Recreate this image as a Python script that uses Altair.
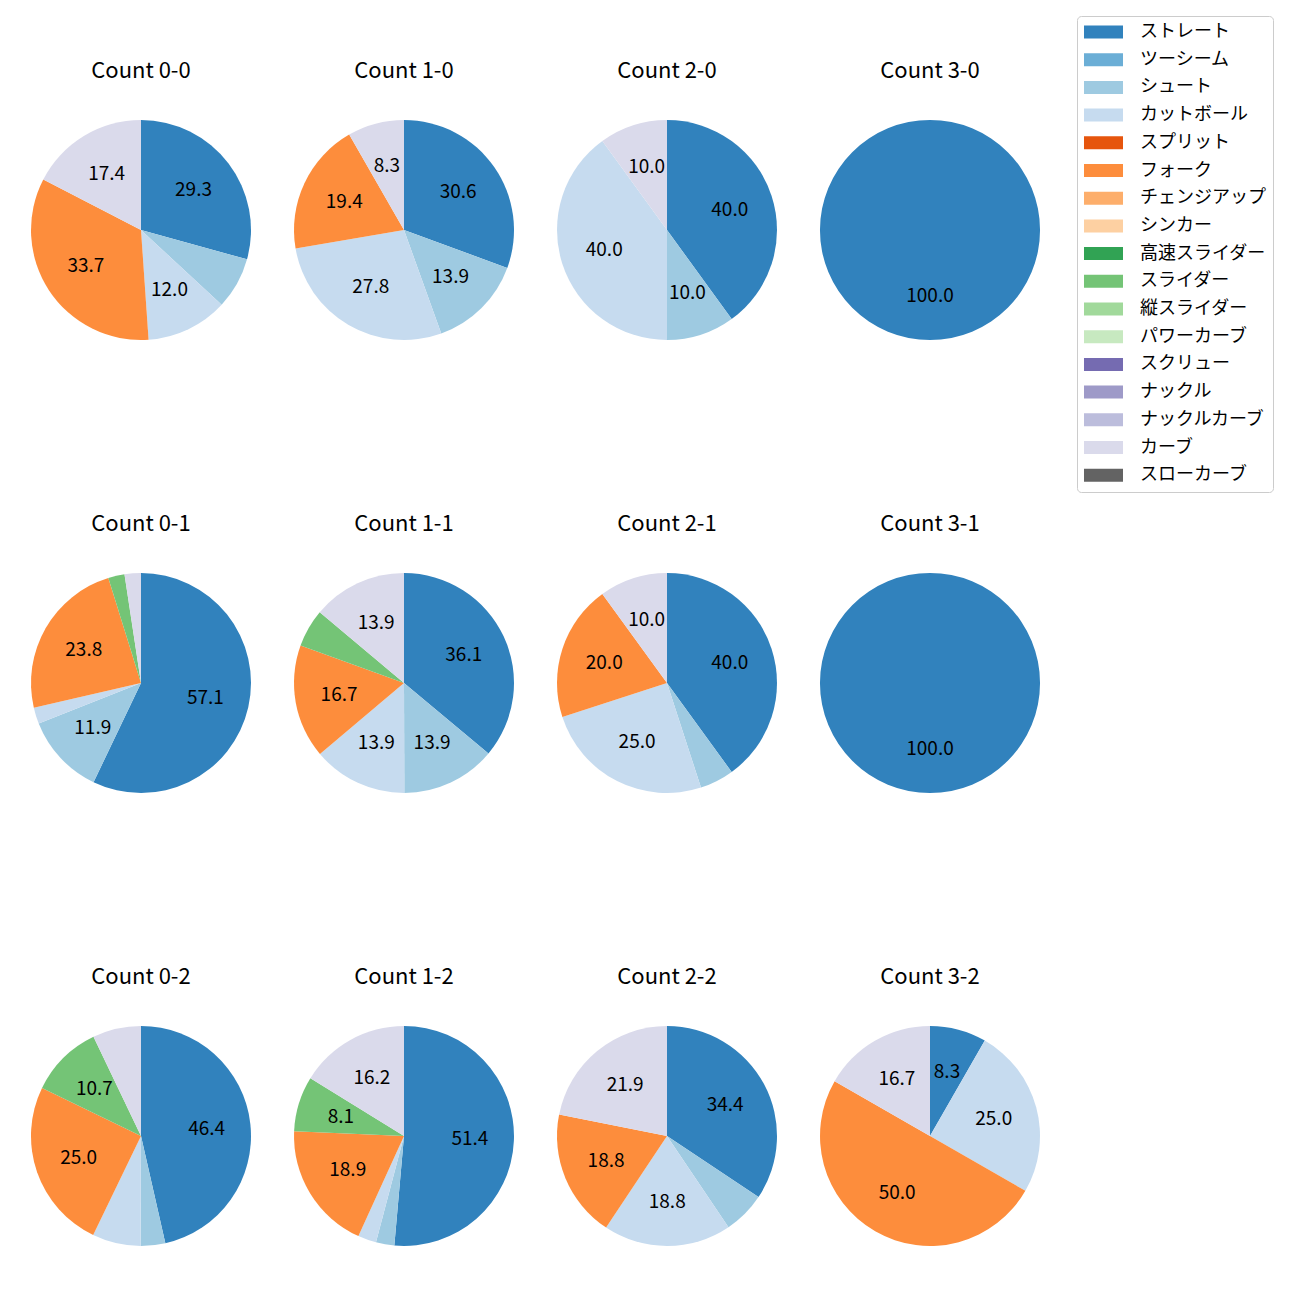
import altair as alt
import pandas as pd

FONT = "Noto Sans CJK JP"

pitch_types = ["ストレート", "ツーシーム", "シュート", "カットボール", "スプリット", "フォーク",
               "チェンジアップ", "シンカー", "高速スライダー", "スライダー", "縦スライダー",
               "パワーカーブ", "スクリュー", "ナックル", "ナックルカーブ", "カーブ", "スローカーブ"]
colors = ["#3182bd", "#6baed6", "#9ecae1", "#c6dbef", "#e6550d", "#fd8d3c", "#fdae6b", "#fdd0a2",
          "#31a354", "#74c476", "#a1d99b", "#c7e9c0", "#756bb1", "#9e9ac8", "#bcbddc", "#dadaeb",
          "#636363"]

# Count 0-0 .. 3-2 : pitch types and percentage shares
types_0_0 = ["ストレート", "シュート", "カットボール", "フォーク", "カーブ"]
share_0_0 = [29.3, 7.6, 12.0, 33.7, 17.4]
types_1_0 = ["ストレート", "シュート", "カットボール", "フォーク", "カーブ"]
share_1_0 = [30.6, 13.9, 27.8, 19.4, 8.3]
types_2_0 = ["ストレート", "シュート", "カットボール", "カーブ"]
share_2_0 = [40.0, 10.0, 40.0, 10.0]
types_3_0 = ["ストレート"]
share_3_0 = [100.0]

types_0_1 = ["ストレート", "シュート", "カットボール", "フォーク", "スライダー", "カーブ"]
share_0_1 = [57.1, 11.9, 2.4, 23.8, 2.4, 2.4]
types_1_1 = ["ストレート", "シュート", "カットボール", "フォーク", "スライダー", "カーブ"]
share_1_1 = [36.1, 13.9, 13.9, 16.7, 5.6, 13.9]
types_2_1 = ["ストレート", "シュート", "カットボール", "フォーク", "カーブ"]
share_2_1 = [40.0, 5.0, 25.0, 20.0, 10.0]
types_3_1 = ["ストレート"]
share_3_1 = [100.0]

types_0_2 = ["ストレート", "シュート", "カットボール", "フォーク", "スライダー", "カーブ"]
share_0_2 = [46.4, 3.6, 7.1, 25.0, 10.7, 7.1]
types_1_2 = ["ストレート", "シュート", "カットボール", "フォーク", "スライダー", "カーブ"]
share_1_2 = [51.4, 2.7, 2.7, 18.9, 8.1, 16.2]
types_2_2 = ["ストレート", "シュート", "カットボール", "フォーク", "カーブ"]
share_2_2 = [34.4, 6.2, 18.8, 18.8, 21.9]
types_3_2 = ["ストレート", "カットボール", "フォーク", "カーブ"]
share_3_2 = [8.3, 25.0, 50.0, 16.7]

grid = [
    [("0-0", types_0_0, share_0_0), ("1-0", types_1_0, share_1_0),
     ("2-0", types_2_0, share_2_0), ("3-0", types_3_0, share_3_0)],
    [("0-1", types_0_1, share_0_1), ("1-1", types_1_1, share_1_1),
     ("2-1", types_2_1, share_2_1), ("3-1", types_3_1, share_3_1)],
    [("0-2", types_0_2, share_0_2), ("1-2", types_1_2, share_1_2),
     ("2-2", types_2_2, share_2_2), ("3-2", types_3_2, share_3_2)],
]

R = 110


def pie(name, types, shares):
    df = pd.DataFrame({
        "pitch": types,
        "share": shares,
        "ord": [pitch_types.index(t) for t in types],
        "label": [f"{s:.1f}" if s >= 8 else "" for s in shares],
    })
    base = alt.Chart(df).encode(
        theta=alt.Theta("share:Q", stack=True),
        order=alt.Order("ord:Q", sort="ascending"),
    )
    arcs = base.mark_arc(outerRadius=R).encode(
        color=alt.Color("pitch:N",
                        scale=alt.Scale(domain=pitch_types, range=colors),
                        legend=alt.Legend(title=None)),
    )
    text = base.mark_text(radius=R * 0.6, fontSize=19, font=FONT, color="black").encode(
        text="label:N"
    )
    return alt.layer(arcs, text).properties(
        width=2 * R, height=2 * R,
        title=alt.Title(f"Count {name}", fontSize=22, font=FONT, fontWeight="normal",
                        color="black", anchor="middle", offset=37),
    )


rows = [alt.hconcat(*[pie(*cell) for cell in row], spacing=43) for row in grid]
chart = alt.vconcat(*rows, spacing=173).resolve_scale(theta="independent").properties(
    padding={"left": 23, "top": 7, "right": 5, "bottom": 5}
).configure_view(stroke=None).configure_legend(
    orient="none", legendX=1046, legendY=-104,
    labelFont=FONT, labelFontSize=18, labelColor="black", labelLimit=300,
    symbolType="M-1.286,-0.929L4.286,-0.929L4.286,0.929L-1.286,0.929Z", symbolSize=196,
    symbolStrokeWidth=0, symbolOpacity=1, labelOffset=38,
    rowPadding=9.7, padding=7, strokeColor="#cccccc", cornerRadius=4, fillColor="white",
)

chart.save("out.html", embed_options={"renderer": "svg", "actions": False})
